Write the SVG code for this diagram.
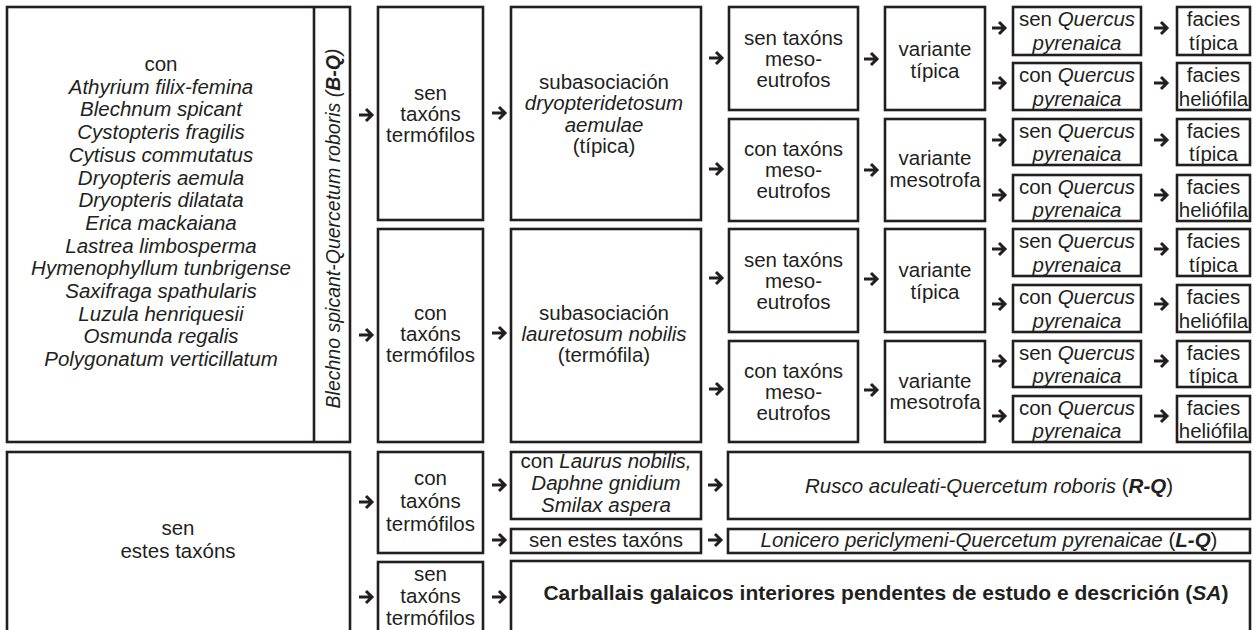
<svg xmlns="http://www.w3.org/2000/svg" xmlns:xlink="http://www.w3.org/1999/xlink" width="1255" height="630" viewBox="0 0 1255 630">
<defs>
<style>
.b{fill:#fff;stroke:#231f20;stroke-width:2.6}
.l{stroke:#231f20;stroke-width:2.6}
text{font-family:"Liberation Sans",Arial,sans-serif;font-size:20.5px;fill:#231f20;text-anchor:middle}
.i{font-style:italic}
.bd{font-weight:bold}
.a{fill:none;stroke:#231f20;stroke-width:3;stroke-linejoin:miter}
</style>
<path id="arr" class="a" d="M0,0 H13 M7,-6 L13,0 L7,6"/>
</defs>
<rect width="1255" height="630" fill="#fff"/>

<g id="n-con">
<rect class="b" x="7" y="7" width="343" height="435"/>
<line class="l" x1="314" y1="7" x2="314" y2="442"/>
<text x="161" y="71">con</text>
<text class="i" x="161" y="93.7">Athyrium filix-femina</text>
<text class="i" x="161" y="116.4">Blechnum spicant</text>
<text class="i" x="161" y="139">Cystopteris fragilis</text>
<text class="i" x="161" y="161.8">Cytisus commutatus</text>
<text class="i" x="161" y="184.5">Dryopteris aemula</text>
<text class="i" x="161" y="207.2">Dryopteris dilatata</text>
<text class="i" x="161" y="229.9">Erica mackaiana</text>
<text class="i" x="161" y="252.6">Lastrea limbosperma</text>
<text class="i" x="161" y="275.3">Hymenophyllum tunbrigense</text>
<text class="i" x="161" y="298">Saxifraga spathularis</text>
<text class="i" x="161" y="320.7">Luzula henriquesii</text>
<text class="i" x="161" y="343.4">Osmunda regalis</text>
<text class="i" x="161" y="366">Polygonatum verticillatum</text>
<text transform="translate(340,228.5) rotate(-90)" style="font-size:19.5px"><tspan class="i">Blechno spicant-Quercetum roboris </tspan><tspan class="i">(</tspan><tspan class="i bd">B-Q</tspan><tspan class="i">)</tspan></text>
</g>

<g id="n-sen-termo">
<rect class="b" x="378" y="7" width="105" height="213"/>
<text x="430.5" y="100">sen</text>
<text x="430.5" y="121">taxóns</text>
<text x="430.5" y="142">termófilos</text>
</g>
<g id="n-con-termo">
<rect class="b" x="378" y="229" width="105" height="213"/>
<text x="430.5" y="320">con</text>
<text x="430.5" y="341">taxóns</text>
<text x="430.5" y="362">termófilos</text>
</g>

<g id="n-dryo">
<rect class="b" x="511" y="7" width="190" height="213"/>
<text x="604" y="88.5">subasociación</text>
<text class="i" x="604" y="110">dryopteridetosum</text>
<text class="i" x="604" y="131.5">aemulae</text>
<text x="604" y="153">(típica)</text>
</g>
<g id="n-laur">
<rect class="b" x="511" y="229" width="190" height="213"/>
<text x="604" y="320">subasociación</text>
<text class="i" x="604" y="341">lauretosum nobilis</text>
<text x="604" y="362">(termófila)</text>
</g>

<g id="n-meso1">
<rect class="b" x="729" y="7" width="129" height="103"/>
<text x="793.5" y="44.5">sen taxóns</text>
<text x="793.5" y="65.5">meso-</text>
<text x="793.5" y="86.5">eutrofos</text>
</g>
<g id="n-meso2">
<rect class="b" x="729" y="119" width="129" height="102"/>
<text x="793.5" y="156">con taxóns</text>
<text x="793.5" y="177">meso-</text>
<text x="793.5" y="198">eutrofos</text>
</g>
<g id="n-meso3">
<rect class="b" x="729" y="229" width="129" height="103"/>
<text x="793.5" y="266.5">sen taxóns</text>
<text x="793.5" y="287.5">meso-</text>
<text x="793.5" y="308.5">eutrofos</text>
</g>
<g id="n-meso4">
<rect class="b" x="729" y="341" width="129" height="101"/>
<text x="793.5" y="377.5">con taxóns</text>
<text x="793.5" y="398.5">meso-</text>
<text x="793.5" y="419.5">eutrofos</text>
</g>

<g id="n-var1">
<rect class="b" x="885" y="7" width="100" height="103"/>
<text x="935" y="56">variante</text>
<text x="935" y="78">típica</text>
</g>
<g id="n-var2">
<rect class="b" x="885" y="119" width="100" height="102"/>
<text x="935" y="165">variante</text>
<text x="935" y="187">mesotrofa</text>
</g>
<g id="n-var3">
<rect class="b" x="885" y="229" width="100" height="103"/>
<text x="935" y="277">variante</text>
<text x="935" y="299">típica</text>
</g>
<g id="n-var4">
<rect class="b" x="885" y="341" width="100" height="101"/>
<text x="935" y="388">variante</text>
<text x="935" y="409">mesotrofa</text>
</g>

<g id="n-q1"><rect class="b" x="1013" y="7" width="128" height="48"/><text x="1077" y="26">sen <tspan class="i">Quercus</tspan></text><text class="i" x="1077" y="50">pyrenaica</text></g>
<g id="n-q2"><rect class="b" x="1013" y="63" width="128" height="47"/><text x="1077" y="82">con <tspan class="i">Quercus</tspan></text><text class="i" x="1077" y="106">pyrenaica</text></g>
<g id="n-q3"><rect class="b" x="1013" y="119" width="128" height="46"/><text x="1077" y="138">sen <tspan class="i">Quercus</tspan></text><text class="i" x="1077" y="161">pyrenaica</text></g>
<g id="n-q4"><rect class="b" x="1013" y="175" width="128" height="46"/><text x="1077" y="194">con <tspan class="i">Quercus</tspan></text><text class="i" x="1077" y="217">pyrenaica</text></g>
<g id="n-q5"><rect class="b" x="1013" y="229" width="128" height="47"/><text x="1077" y="248">sen <tspan class="i">Quercus</tspan></text><text class="i" x="1077" y="272">pyrenaica</text></g>
<g id="n-q6"><rect class="b" x="1013" y="285" width="128" height="47"/><text x="1077" y="304">con <tspan class="i">Quercus</tspan></text><text class="i" x="1077" y="328">pyrenaica</text></g>
<g id="n-q7"><rect class="b" x="1013" y="341" width="128" height="46"/><text x="1077" y="360">sen <tspan class="i">Quercus</tspan></text><text class="i" x="1077" y="383">pyrenaica</text></g>
<g id="n-q8"><rect class="b" x="1013" y="396" width="128" height="46"/><text x="1077" y="415">con <tspan class="i">Quercus</tspan></text><text class="i" x="1077" y="438">pyrenaica</text></g>

<g id="n-f1"><rect class="b" x="1177" y="7" width="73" height="48"/><text x="1213.5" y="26">facies</text><text x="1213.5" y="50">típica</text></g>
<g id="n-f2"><rect class="b" x="1177" y="63" width="73" height="47"/><text x="1213.5" y="82">facies</text><text x="1213.5" y="106">heliófila</text></g>
<g id="n-f3"><rect class="b" x="1177" y="119" width="73" height="46"/><text x="1213.5" y="138">facies</text><text x="1213.5" y="161">típica</text></g>
<g id="n-f4"><rect class="b" x="1177" y="175" width="73" height="46"/><text x="1213.5" y="194">facies</text><text x="1213.5" y="217">heliófila</text></g>
<g id="n-f5"><rect class="b" x="1177" y="229" width="73" height="47"/><text x="1213.5" y="248">facies</text><text x="1213.5" y="272">típica</text></g>
<g id="n-f6"><rect class="b" x="1177" y="285" width="73" height="47"/><text x="1213.5" y="304">facies</text><text x="1213.5" y="328">heliófila</text></g>
<g id="n-f7"><rect class="b" x="1177" y="341" width="73" height="46"/><text x="1213.5" y="360">facies</text><text x="1213.5" y="383">típica</text></g>
<g id="n-f8"><rect class="b" x="1177" y="396" width="73" height="46"/><text x="1213.5" y="415">facies</text><text x="1213.5" y="438">heliófila</text></g>

<g id="n-sen-estes">
<rect class="b" x="7" y="452" width="343" height="200"/>
<text x="178" y="535">sen</text>
<text x="178" y="558">estes taxóns</text>
</g>
<g id="n-b-con-termo">
<rect class="b" x="378" y="452" width="105" height="101"/>
<text x="430.5" y="485">con</text>
<text x="430.5" y="508">taxóns</text>
<text x="430.5" y="531">termófilos</text>
</g>
<g id="n-b-sen-termo">
<rect class="b" x="378" y="562" width="105" height="90"/>
<text x="430.5" y="581">sen</text>
<text x="430.5" y="603">taxóns</text>
<text x="430.5" y="625">termófilos</text>
</g>
<g id="n-laurus">
<rect class="b" x="511" y="452" width="190" height="67"/>
<text x="606" y="468">con <tspan class="i">Laurus nobilis,</tspan></text>
<text class="i" x="606" y="490">Daphne gnidium</text>
<text class="i" x="606" y="512">Smilax aspera</text>
</g>
<g id="n-b-sen-estes">
<rect class="b" x="511" y="529" width="190" height="24"/>
<text x="606" y="547">sen estes taxóns</text>
</g>
<g id="n-rq">
<rect class="b" x="728" y="452" width="522" height="67"/>
<text x="989" y="493"><tspan class="i">Rusco aculeati-Quercetum roboris </tspan>(<tspan class="i bd">R-Q</tspan>)</text>
</g>
<g id="n-lq">
<rect class="b" x="728" y="529" width="522" height="24"/>
<text x="989" y="547"><tspan class="i">Lonicero periclymeni-Quercetum pyrenaicae </tspan>(<tspan class="i bd">L-Q</tspan>)</text>
</g>
<g id="n-sa">
<rect class="b" x="511" y="561" width="739" height="91"/>
<text class="bd" x="886" y="600" style="font-size:21px">Carballais galaicos interiores pendentes de estudo e descrición (<tspan class="i">SA</tspan>)</text>
</g>

<g id="connectors">
<use xlink:href="#arr" x="359" y="115"/>
<use xlink:href="#arr" x="359" y="335"/>
<use xlink:href="#arr" x="492" y="113"/>
<use xlink:href="#arr" x="492" y="333"/>
<use xlink:href="#arr" x="709" y="58"/>
<use xlink:href="#arr" x="709" y="169"/>
<use xlink:href="#arr" x="709" y="278"/>
<use xlink:href="#arr" x="709" y="389"/>
<use xlink:href="#arr" x="864" y="59"/>
<use xlink:href="#arr" x="864" y="170"/>
<use xlink:href="#arr" x="864" y="279"/>
<use xlink:href="#arr" x="864" y="390"/>
<use xlink:href="#arr" x="992" y="28"/>
<use xlink:href="#arr" x="992" y="83"/>
<use xlink:href="#arr" x="992" y="140"/>
<use xlink:href="#arr" x="992" y="195"/>
<use xlink:href="#arr" x="992" y="249"/>
<use xlink:href="#arr" x="992" y="304"/>
<use xlink:href="#arr" x="992" y="361"/>
<use xlink:href="#arr" x="992" y="416"/>
<use xlink:href="#arr" x="1154" y="28"/>
<use xlink:href="#arr" x="1154" y="83"/>
<use xlink:href="#arr" x="1154" y="140"/>
<use xlink:href="#arr" x="1154" y="195"/>
<use xlink:href="#arr" x="1154" y="249"/>
<use xlink:href="#arr" x="1154" y="304"/>
<use xlink:href="#arr" x="1154" y="361"/>
<use xlink:href="#arr" x="1154" y="416"/>
<use xlink:href="#arr" x="359" y="502"/>
<use xlink:href="#arr" x="359" y="597"/>
<use xlink:href="#arr" x="492" y="485"/>
<use xlink:href="#arr" x="492" y="540"/>
<use xlink:href="#arr" x="492" y="597"/>
<use xlink:href="#arr" x="708" y="485"/>
<use xlink:href="#arr" x="708" y="540"/>
</g>
</svg>
